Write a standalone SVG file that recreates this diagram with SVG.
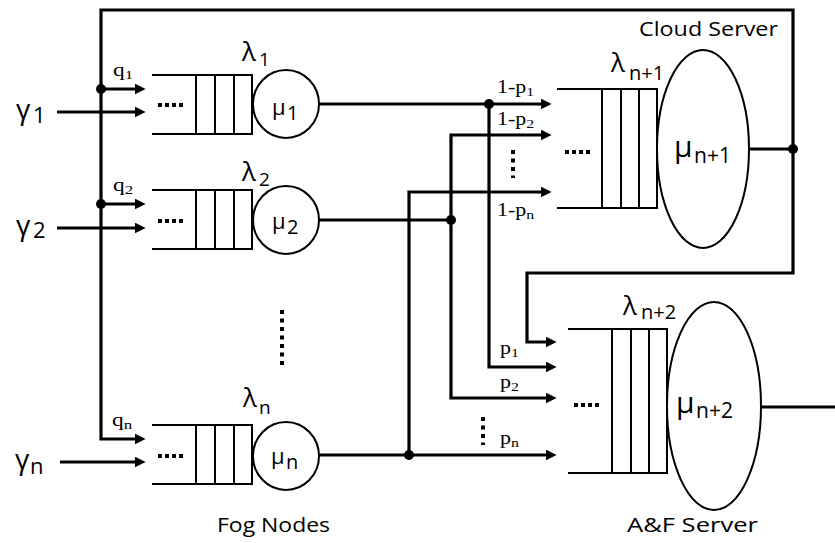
<svg xmlns="http://www.w3.org/2000/svg" width="835" height="543" viewBox="0 0 835 543">
<defs>
<marker id="arr" markerUnits="userSpaceOnUse" markerWidth="11" markerHeight="11" refX="4" refY="5" orient="auto-start-reverse" viewBox="0 0 10 10">
<path d="M0,0 L10,5 L0,10 z" fill="#000"/>
</marker>
<style>
.conn{fill:none;stroke:#000;stroke-width:3.2;stroke-linejoin:miter}
.arr{marker-end:url(#arr)}
.dot{fill:#000}
.q{fill:none;stroke:#000;stroke-width:2}
.srv{fill:#fff;stroke:#000;stroke-width:2}
.dd{fill:none;stroke:#000;stroke-width:4;stroke-dasharray:4 3}
.vd{fill:none;stroke:#000;stroke-width:4;stroke-dasharray:4 4.5}
.gk{font-family:"Open Sans","Liberation Sans",sans-serif;fill:#000}
.tm{font-family:"Liberation Serif","Times New Roman",serif;fill:#000;font-size:18px}
.lb{font-family:"Open Sans","Liberation Sans",sans-serif;fill:#000;font-size:20px}
</style>
</defs>
<rect width="835" height="543" fill="#fff"/>

<g id="connectors">
<path class="conn" d="M139,439 H101 V10 H793 V273 H527 V342 H550" marker-start="url(#arr)" marker-end="url(#arr)"/>
<path class="conn arr" d="M101,89 H139"/>
<path class="conn arr" d="M101,204 H139"/>
<path class="conn arr" d="M57,112 H139"/>
<path class="conn arr" d="M57,228 H139"/>
<path class="conn arr" d="M60,462 H139"/>
<path class="conn arr" d="M319,104 H545"/>
<path class="conn arr" d="M489,104 V367 H550"/>
<path class="conn" d="M319,220 H451"/>
<path class="conn" d="M545,135 H451 V398 H550" marker-start="url(#arr)" marker-end="url(#arr)"/>
<path class="conn arr" d="M319,455 H550"/>
<path class="conn" d="M545,192 H409 V455" marker-start="url(#arr)"/>
<path class="conn" d="M749,149 H793"/>
<path class="conn" d="M761,407 H835"/>
<circle class="dot" cx="101" cy="89" r="5"/>
<circle class="dot" cx="101" cy="204" r="5"/>
<circle class="dot" cx="489" cy="104" r="5"/>
<circle class="dot" cx="451" cy="220" r="5"/>
<circle class="dot" cx="409" cy="455" r="5"/>
<circle class="dot" cx="793" cy="149" r="5"/>
<text class="tm" transform="translate(113,76) scale(1.3,1)">q<tspan dy="3" font-size="13">1</tspan></text>
<text class="tm" transform="translate(113,191) scale(1.3,1)">q<tspan dy="3" font-size="13">2</tspan></text>
<text class="tm" transform="translate(112,426) scale(1.3,1)">q<tspan dy="3" font-size="13">n</tspan></text>
<text class="tm" transform="translate(497,93) scale(1.22,1)">1-p<tspan dy="3" font-size="13">1</tspan></text>
<text class="tm" transform="translate(497,125) scale(1.22,1)">1-p<tspan dy="3" font-size="13">2</tspan></text>
<text class="tm" transform="translate(497,216) scale(1.22,1)">1-p<tspan dy="3" font-size="13">n</tspan></text>
<text class="tm" transform="translate(500,354) scale(1.22,1)">p<tspan dy="3" font-size="13">1</tspan></text>
<text class="tm" transform="translate(500,388) scale(1.22,1)">p<tspan dy="3" font-size="13">2</tspan></text>
<text class="tm" transform="translate(500,444) scale(1.22,1)">p<tspan dy="3" font-size="13">n</tspan></text>
<path class="vd" d="M513,150 V178"/>
<path class="vd" d="M483,417 V445"/>
<text class="gk" x="16" y="119" font-size="28">γ<tspan x="33" y="123" font-size="22">1</tspan></text>
<text class="gk" x="16" y="235" font-size="28">γ<tspan x="33" y="238" font-size="22">2</tspan></text>
<text class="gk" x="15" y="469" font-size="28">γ<tspan x="30" y="474" font-size="22">n</tspan></text>
</g>

<g id="fog1">
<path class="q" d="M152,75 H252 V134 H152 M196,75 V134 M215,75 V134 M234,75 V134"/>
<path class="dd" d="M158,105 H185"/>
<ellipse class="srv" cx="286" cy="104" rx="33" ry="34"/>
<text class="gk" x="242" y="61" font-size="26">λ<tspan x="259" y="66" font-size="19">1</tspan></text>
<text class="gk" x="272" y="115" font-size="22">μ<tspan x="287" y="120" font-size="20">1</tspan></text>
</g>

<g id="fog2">
<path class="q" d="M152,190 H252 V249 H152 M196,190 V249 M215,190 V249 M234,190 V249"/>
<path class="dd" d="M158,221 H185"/>
<ellipse class="srv" cx="286" cy="220" rx="33" ry="34"/>
<text class="gk" x="242" y="181" font-size="26">λ<tspan x="259" y="186" font-size="19">2</tspan></text>
<text class="gk" x="272" y="229" font-size="22">μ<tspan x="287" y="234" font-size="20">2</tspan></text>
</g>

<path class="vd" d="M282,310 V369"/>

<g id="fogn">
<path class="q" d="M152,425 H252 V484 H152 M196,425 V484 M215,425 V484 M234,425 V484"/>
<path class="dd" d="M158,456 H185"/>
<ellipse class="srv" cx="286" cy="456" rx="33" ry="34"/>
<text class="gk" x="243" y="407" font-size="26">λ<tspan x="259" y="414" font-size="19">n</tspan></text>
<text class="gk" x="271" y="464" font-size="22">μ<tspan x="286" y="469" font-size="20">n</tspan></text>
<text class="lb" x="217" y="532" textLength="113" lengthAdjust="spacingAndGlyphs">Fog Nodes</text>
</g>

<g id="cloud">
<path class="q" d="M557,89 H657 V208 H557 M602,89 V208 M621,89 V208 M639,89 V208"/>
<path class="dd" d="M565,152 H592"/>
<ellipse class="srv" cx="703" cy="149" rx="46" ry="99"/>
<text class="gk" x="611" y="72" font-size="26">λ<tspan x="629" y="80" font-size="20">n+1</tspan></text>
<text class="gk" x="674" y="157" font-size="30">μ<tspan x="694" y="163" font-size="21">n+1</tspan></text>
<text class="lb" x="639" y="36" textLength="139" lengthAdjust="spacingAndGlyphs">Cloud Server</text>
</g>

<g id="af">
<path class="q" d="M568,329 H667 V473 H568 M612,329 V473 M631,329 V473 M649,329 V473"/>
<path class="dd" d="M574,405 H602"/>
<ellipse class="srv" cx="714" cy="406" rx="47" ry="104"/>
<text class="gk" x="623" y="315" font-size="26">λ<tspan x="641" y="319" font-size="20">n+2</tspan></text>
<text class="gk" x="676" y="413" font-size="30">μ<tspan x="696" y="418" font-size="21">n+2</tspan></text>
<text class="lb" x="627" y="532" textLength="131" lengthAdjust="spacingAndGlyphs">A&amp;F Server</text>
</g>
</svg>
